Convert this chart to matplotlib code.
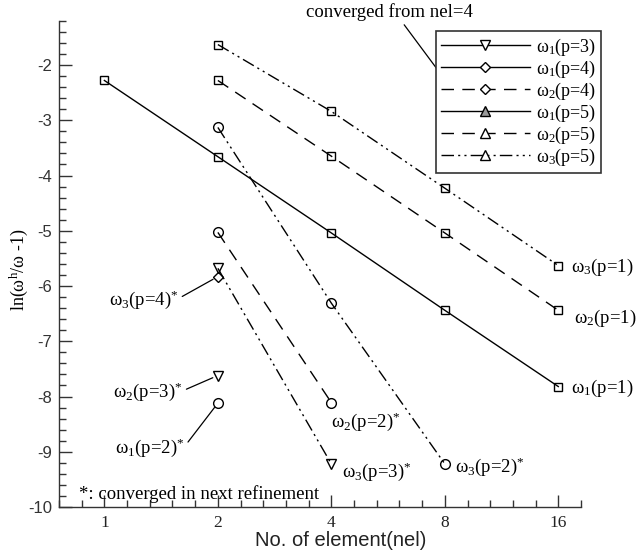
import matplotlib
matplotlib.use('Agg')
import matplotlib.pyplot as plt
import numpy as np
from matplotlib.lines import Line2D
from matplotlib.ticker import FixedLocator, MultipleLocator, NullFormatter, FixedFormatter

plt.rcParams['font.family'] = ['Liberation Serif', 'DejaVu Serif']
plt.rcParams['mathtext.fontset'] = 'custom'
plt.rcParams['mathtext.rm'] = 'Liberation Serif'
plt.rcParams['mathtext.it'] = 'Liberation Serif:italic'
plt.rcParams['mathtext.bf'] = 'Liberation Serif:bold'
plt.rcParams['axes.unicode_minus'] = False

# ---------------- data ----------------
nel_w1_p1 = [1, 2, 4, 8, 16]
w1_p1 = [-2.28, -3.66, -5.04, -6.44, -7.82]
nel_p1 = [2, 4, 8, 16]
w2_p1 = [-2.28, -3.65, -5.04, -6.44]
w3_p1 = [-1.63, -2.84, -4.23, -5.63]

nel_w3_p2 = [2, 4, 8]
w3_p2 = [-3.13, -6.31, -9.22]
nel_w2_p2 = [2, 4]
w2_p2 = [-5.03, -8.11]
nel_w1_p2 = [2]
w1_p2 = [-8.12]

nel_w3_p3 = [2, 4]
w3_p3 = [-5.68, -9.22]
nel_w2_p3 = [2]
w2_p3 = [-7.62]
nel_w3_p4 = [2]
w3_p4 = [-5.83]

xticks = [1, 2, 4, 8, 16]
xticklabels = ['1', '2', '4', '8', '16']
yticks = [-10, -9, -8, -7, -6, -5, -4, -3, -2]

legend_labels = ['ω$_1$(p=3)', 'ω$_1$(p=4)', 'ω$_2$(p=4)',
                 'ω$_1$(p=5)', 'ω$_2$(p=5)', 'ω$_3$(p=5)']

# ---------------- styles ----------------
SOLID = '-'
DASH = (0, (9, 6))
DDOT = (0, (9, 3, 1.5, 3, 1.5, 3))
LW = 1.0
MEW = 1.0

fig = plt.figure(figsize=(6.38, 5.5), dpi=100)
ax = fig.add_axes([59 / 638, 1 - 507 / 550, (581 - 59) / 638, (507 - 20.8) / 550])

def series(x, y, ls, marker, ms):
    ax.plot(x, y, color='k', linestyle=ls, lw=LW, marker=marker, ms=ms,
            mfc='none', mec='k', mew=MEW, clip_on=False)

series(nel_w1_p1, w1_p1, SOLID, 's', 6)
series(nel_p1, w2_p1, DASH, 's', 6)
series(nel_p1, w3_p1, DDOT, 's', 6)
series(nel_w3_p2, w3_p2, DDOT, 'o', 7)
series(nel_w2_p2, w2_p2, DASH, 'o', 7)
series(nel_w1_p2, w1_p2, SOLID, 'o', 7)
series(nel_w3_p3, w3_p3, DDOT, 'v', 7)
series(nel_w2_p3, w2_p3, SOLID, 'v', 7)
series(nel_w3_p4, w3_p4, SOLID, 'D', 5.5)

# ---------------- axes ----------------
ax.set_xscale('log', base=2)
ax.set_xlim(2 ** -0.4, 2 ** 4.2)
ax.set_ylim(-10, -1.2)
ax.xaxis.set_major_locator(FixedLocator(xticks))
ax.xaxis.set_major_formatter(FixedFormatter(xticklabels))
ax.xaxis.set_minor_locator(FixedLocator(2 ** (np.arange(-2, 22) * 0.2)))
ax.xaxis.set_minor_formatter(NullFormatter())
ax.yaxis.set_major_locator(FixedLocator(yticks))
ax.yaxis.set_minor_locator(MultipleLocator(0.2))

for s in ['top', 'right']:
    ax.spines[s].set_visible(False)
for s in ['left', 'bottom']:
    ax.spines[s].set_color('#333333')
    ax.spines[s].set_linewidth(1.0)

ax.tick_params(which='both', direction='in', color='#333333', width=1.0)
ax.tick_params(which='major', length=9)
ax.tick_params(which='minor', length=5)
ax.tick_params(axis='y', which='major', pad=5, labelsize=12, labelcolor='#333333')
ax.tick_params(axis='x', which='major', pad=6, labelsize=12.5, labelcolor='#222222')
for lab in ax.get_yticklabels():
    lab.set_family(['Liberation Sans', 'DejaVu Sans'])

fig.text(341 / 638, 1 - 540 / 550, 'No. of element(nel)', ha='center', va='center',
         fontsize=14.5, family=['Liberation Sans', 'DejaVu Sans'], color='#222222')
fig.text(19 / 638, 1 - 270 / 550, 'ln(ω$^{\\mathrm{h}}$/ω -1)', ha='center', va='center',
         rotation=90, fontsize=13)

# ---------------- annotations ----------------
FS = 13.5
lead = dict(arrowstyle='-', lw=0.9, color='k', shrinkA=1, shrinkB=4, relpos=(1, 0.55))

ax.annotate('ω$_3$(p=4)$^{*}$', xy=(nel_w3_p4[0], w3_p4[0]), xytext=(1.57, -6.25),
            ha='right', va='center', fontsize=FS, arrowprops=lead)
ax.annotate('ω$_2$(p=3)$^{*}$', xy=(nel_w2_p3[0], w2_p3[0]), xytext=(1.61, -7.92),
            ha='right', va='center', fontsize=FS, arrowprops=lead)
ax.annotate('ω$_1$(p=2)$^{*}$', xy=(nel_w1_p2[0], w1_p2[0]), xytext=(1.63, -8.93),
            ha='right', va='center', fontsize=FS, arrowprops=lead)

ax.text(4.0, -8.46, 'ω$_2$(p=2)$^{*}$', ha='left', va='center', fontsize=FS)
ax.text(4.26, -9.36, 'ω$_3$(p=3)$^{*}$', ha='left', va='center', fontsize=FS)
ax.text(8.49, -9.27, 'ω$_3$(p=2)$^{*}$', ha='left', va='center', fontsize=FS)

ax.text(17.3, -5.66, 'ω$_3$(p=1)', ha='left', va='center', fontsize=FS, clip_on=False)
ax.text(17.6, -6.58, 'ω$_2$(p=1)', ha='left', va='center', fontsize=FS, clip_on=False)
ax.text(17.3, -7.85, 'ω$_1$(p=1)', ha='left', va='center', fontsize=FS, clip_on=False)

ax.text(0.858, -9.76, '*: converged in next refinement', ha='left', va='center', fontsize=FS)

ax.annotate('converged from nel=4', xy=(7.70, -2.11), xytext=(5.71, -1.04),
            ha='center', va='center', fontsize=FS, annotation_clip=False,
            arrowprops=dict(arrowstyle='-', lw=0.9, color='k', shrinkA=1, shrinkB=0,
                            relpos=(0.57, 0)))

# ---------------- legend ----------------
handles = [
    Line2D([], [], color='k', ls=SOLID, lw=LW, marker='v', ms=7, mfc='white', mec='k', mew=MEW),
    Line2D([], [], color='k', ls=SOLID, lw=LW, marker='D', ms=5.5, mfc='white', mec='k', mew=MEW),
    Line2D([], [], color='k', ls=DASH, lw=LW, marker='D', ms=5.5, mfc='white', mec='k', mew=MEW),
    Line2D([], [], color='k', ls=SOLID, lw=LW, marker='^', ms=7, mfc='#999999', mec='k', mew=MEW),
    Line2D([], [], color='k', ls=DASH, lw=LW, marker='^', ms=7, mfc='white', mec='k', mew=MEW),
    Line2D([], [], color='k', ls=DDOT, lw=LW, marker='^', ms=7, mfc='white', mec='k', mew=MEW),
]
leg = fig.legend(handles, legend_labels, loc='upper left',
                 bbox_to_anchor=(435.7 / 638, 1 - 31 / 550), bbox_transform=fig.transFigure,
                 fontsize=13, handlelength=4.9, handletextpad=0.35, labelspacing=0.05,
                 borderpad=0.3, borderaxespad=0, fancybox=False, framealpha=1,
                 edgecolor='#333333')
leg.get_frame().set_linewidth(1.2)

fig.savefig('out.png', dpi=100, facecolor='white')
